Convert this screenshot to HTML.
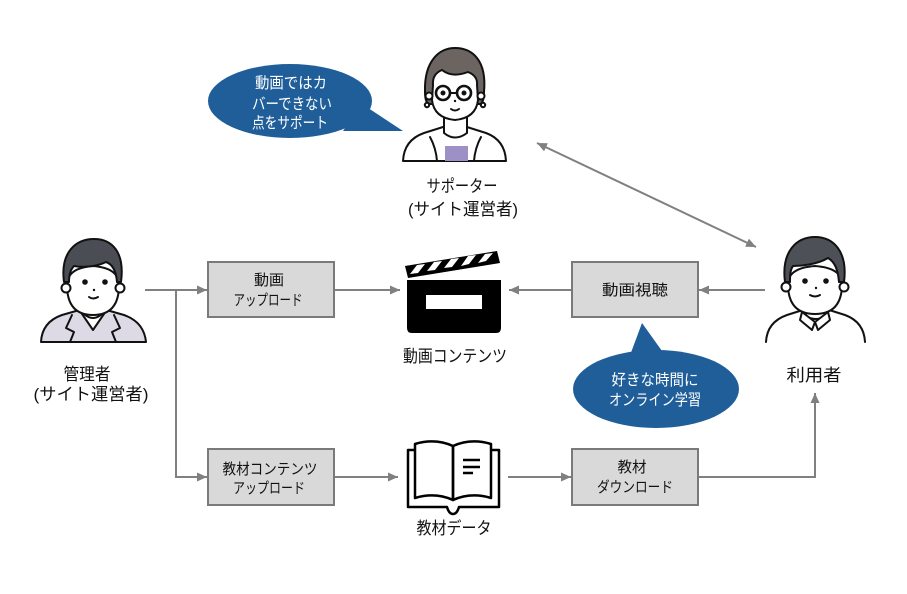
<!DOCTYPE html>
<html><head><meta charset="utf-8">
<style>
html,body{margin:0;padding:0;background:#fff;}
svg{display:block;}
text{font-family:"Liberation Sans","Noto Sans CJK JP",sans-serif;}
</style></head>
<body>
<svg width="907" height="594" viewBox="0 0 907 594" xmlns="http://www.w3.org/2000/svg">
<defs>
<marker id="ar" markerUnits="userSpaceOnUse" markerWidth="10" markerHeight="10" refX="10" refY="5" orient="auto">
<path d="M0,0.5 L10,5 L0,9.5 z" fill="#808080"/>
</marker>
<marker id="as" markerUnits="userSpaceOnUse" markerWidth="10" markerHeight="10" refX="0" refY="5" orient="auto">
<path d="M10,0.5 L0,5 L10,9.5 z" fill="#808080"/>
</marker>
</defs>
<rect width="907" height="594" fill="#fff"/>

<!-- connectors -->
<g stroke="#808080" stroke-width="2" fill="none">
<path d="M145,290 H207" marker-end="url(#ar)"/>
<path d="M176,290 V477 H207" marker-end="url(#ar)"/>
<path d="M335,290 H400" marker-end="url(#ar)"/>
<path d="M572,290 H509" marker-end="url(#ar)"/>
<path d="M765,290 H699" marker-end="url(#ar)"/>
<path d="M537,143 L756,247" marker-start="url(#as)" marker-end="url(#ar)"/>
<path d="M334,477 H398" marker-end="url(#ar)"/>
<path d="M508,477 H571" marker-end="url(#ar)"/>
<path d="M699,477 H815 V393" marker-end="url(#ar)"/>
</g>

<!-- boxes -->
<g fill="#d9d9d9" stroke="#7a7a7a" stroke-width="2">
<rect x="208" y="262" width="126" height="55"/>
<rect x="572" y="262" width="126" height="55"/>
<rect x="208" y="449" width="126" height="56"/>
<rect x="572" y="449" width="126" height="56"/>
</g>
<g font-size="15" fill="#111" text-anchor="middle">
<text x="269" y="285" textLength="30" lengthAdjust="spacingAndGlyphs">動画</text>
<text x="268" y="305" textLength="69" lengthAdjust="spacingAndGlyphs">アップロード</text>
<text x="635" y="295" textLength="66" lengthAdjust="spacingAndGlyphs">動画視聴</text>
<text x="270" y="474" textLength="95" lengthAdjust="spacingAndGlyphs">教材コンテンツ</text>
<text x="269" y="493" textLength="72" lengthAdjust="spacingAndGlyphs">アップロード</text>
<text x="632" y="472" textLength="29" lengthAdjust="spacingAndGlyphs">教材</text>
<text x="635" y="492" textLength="76" lengthAdjust="spacingAndGlyphs">ダウンロード</text>
</g>

<!-- labels -->
<g font-size="17" fill="#111" text-anchor="middle">
<text x="462" y="192" textLength="71" lengthAdjust="spacingAndGlyphs">サポーター</text>
<text x="463" y="215" textLength="110" lengthAdjust="spacingAndGlyphs">(サイト運営者)</text>
<text x="87" y="380" textLength="47" lengthAdjust="spacingAndGlyphs">管理者</text>
<text x="91" y="400" textLength="115" lengthAdjust="spacingAndGlyphs">(サイト運営者)</text>
<text x="814" y="381" textLength="55" lengthAdjust="spacingAndGlyphs">利用者</text>
<text x="455" y="362" textLength="104" lengthAdjust="spacingAndGlyphs">動画コンテンツ</text>
<text x="454" y="534" textLength="75" lengthAdjust="spacingAndGlyphs">教材データ</text>
</g>

<!-- top bubble -->
<g fill="#1f5e99">
<ellipse cx="290" cy="101" rx="82" ry="37"/>
<polygon points="362,104 403,131 343,131"/>
</g>
<g font-size="15.5" fill="#fff">
<text x="255" y="88" textLength="72" lengthAdjust="spacingAndGlyphs">動画ではカ</text>
<text x="252" y="109" textLength="80" lengthAdjust="spacingAndGlyphs">バーできない</text>
<text x="252" y="128" textLength="76" lengthAdjust="spacingAndGlyphs">点をサポート</text>
</g>

<!-- bottom bubble -->
<g fill="#1f5e99">
<ellipse cx="656" cy="389" rx="83" ry="39"/>
<polygon points="629,358 642,323 667,358"/>
</g>
<g font-size="15.5" fill="#fff" text-anchor="middle">
<text x="655" y="385" textLength="87" lengthAdjust="spacingAndGlyphs">好きな時間に</text>
<text x="655" y="405" textLength="92" lengthAdjust="spacingAndGlyphs">オンライン学習</text>
</g>

<!-- clapperboard -->
<g fill="#000">
<path d="M407,280 H501 V328 Q501,333 496,333 H412 Q407,333 407,328 Z"/>
<polygon points="405,266 497,251 500,263 408,278"/>
</g>
<rect x="426" y="295" width="56" height="14" fill="#fff"/>
<g fill="#fff">
<polygon points="410,274 417,265 425,264 418,273"/>
<polygon points="427,271 434,262 442,261 435,270"/>
<polygon points="444,268 451,259 459,258 452,267"/>
<polygon points="461,266 468,256 476,255 469,264"/>
<polygon points="478,263 485,254 493,253 486,261"/>
</g>

<!-- book -->
<g fill="none" stroke="#000" stroke-width="2.5" stroke-linejoin="round">
<path d="M415,450 H408 V507 H447 Q449,514 453,514 Q457,514 459,507 H499 V450 H492"/>
<path d="M415,444 Q435,438 453,446 V500 Q435,492 415,498 Z"/>
<path d="M491,444 Q471,438 453,446 V500 Q471,492 491,498 Z"/>
<path d="M463,460 H480 M463,467 H480 M463,473 H473"/>
</g>

<!-- supporter -->
<g stroke="#111" stroke-width="2" stroke-linejoin="round" stroke-linecap="round">
<path d="M403,161 Q404,140 424,133 L443,127 L467,127 L486,133 Q505,140 506,161 Z" fill="#fff"/>
<rect x="445" y="146" width="23" height="15" fill="#9c90c6" stroke="none"/>
<path d="M430,137 Q436,148 437,161 M481,137 Q475,148 474,161" fill="none"/>
<path d="M444,115 V133 Q455,142 467,133 V115" fill="#fff"/>
<path d="M425,92 C424,60 440,48 455,48 C472,48 487,60 484,92 C484,100 482,104 480,104 L430,104 C427,104 425,100 425,92 Z" fill="#6b6461"/>
<path d="M433,85 Q432,74 442,70 Q452,78 468,72 Q478,76 477,85 L478,100 Q476,118 455,120 Q434,118 432,100 Z" fill="#fff"/>
<circle cx="429" cy="96" r="3.5" fill="#fff"/>
<circle cx="481" cy="96" r="3.5" fill="#fff"/>
<circle cx="427" cy="105" r="2.2" fill="#fff"/>
<circle cx="483" cy="105" r="2.2" fill="#fff"/>
<circle cx="443" cy="93" r="7" fill="#fff" stroke-width="2.6"/>
<circle cx="464" cy="93" r="7" fill="#fff" stroke-width="2.6"/>
<path d="M450,93 H457" fill="none"/>
<path d="M451,109 Q455,112 459,109" fill="none"/>
</g>
<circle cx="443" cy="93" r="2.5" fill="#111"/>
<circle cx="464" cy="93" r="2.5" fill="#111"/>
<circle cx="455" cy="101" r="1.2" fill="#111"/>

<!-- manager -->
<g stroke="#111" stroke-width="2" stroke-linejoin="round" stroke-linecap="round">
<path d="M41,342 Q42,322 62,315 L83,309 L103,309 L124,315 Q144,322 146,342 Z" fill="#dddae6"/>
<path d="M80,311 L93,330 L106,311 Z" fill="#fff"/>
<path d="M72,315 L66,328 L74,332 L70,342 M114,315 L120,328 L112,332 L116,342" fill="none"/>
<path d="M84,300 V314 Q93,322 102,314 V300" fill="#fff"/>
<path d="M67,285 Q67,315 93,315 Q119,315 119,285 Q119,268 93,266 Q67,268 67,285 Z" fill="#fff"/>
<circle cx="66" cy="288" r="4.5" fill="#fff"/>
<circle cx="120" cy="288" r="4.5" fill="#fff"/>
<path d="M64,282 C60,252 76,239 94,239 C112,239 125,252 121,282 L117,282 C116,270 112,264 106,262 C98,266 84,268 74,266 C70,270 69,276 69,282 Z" fill="#4a4e54"/>
<path d="M89,297 Q93,300 98,297" fill="none"/>
</g>
<circle cx="85" cy="282" r="2.8" fill="#111"/>
<circle cx="105" cy="282" r="2.8" fill="#111"/>
<circle cx="94" cy="290" r="1.2" fill="#111"/>

<!-- user -->
<g stroke="#111" stroke-width="2" stroke-linejoin="round" stroke-linecap="round">
<path d="M766,342 Q767,322 787,315 L806,309 L826,309 L845,315 Q864,322 865,342" fill="#fff"/>
<path d="M806,304 V316 Q815,322 826,316 V304" fill="#fff"/>
<path d="M802,312 L800,320 L812,330 L815,322 L818,330 L830,320 L828,312 L815,322 Z" fill="#fff"/>
<path d="M788,284 Q788,314 815,314 Q842,314 842,284 Q842,268 815,266 Q788,268 788,284 Z" fill="#fff"/>
<circle cx="786" cy="287" r="4.5" fill="#fff"/>
<circle cx="844" cy="287" r="4.5" fill="#fff"/>
<path d="M785,282 C781,251 797,237 815,237 C833,237 848,251 844,282 L839,282 C838,270 835,262 828,258 C818,264 803,266 793,266 C790,270 790,276 790,282 Z" fill="#4d5157"/>
<path d="M810,295 Q815,298 820,295" fill="none"/>
</g>
<circle cx="805" cy="281" r="2.8" fill="#111"/>
<circle cx="826" cy="281" r="2.8" fill="#111"/>
<circle cx="816" cy="288" r="1.2" fill="#111"/>
</svg>
</body></html>
